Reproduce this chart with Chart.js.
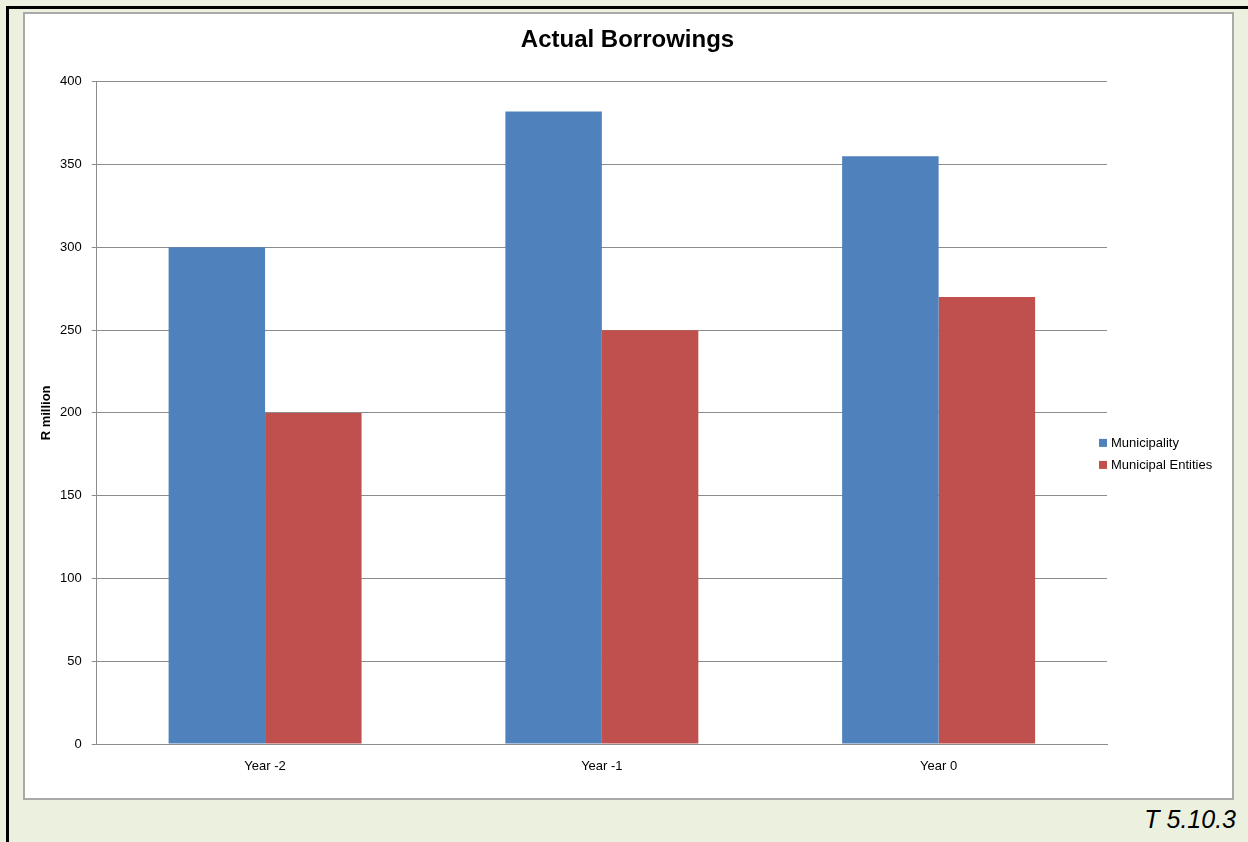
<!DOCTYPE html>
<html>
<head>
<meta charset="utf-8">
<title>Actual Borrowings</title>
<script src="https://cdn.jsdelivr.net/npm/chart.js@4.4.1/dist/chart.umd.min.js"></script>
<style>
  html, body { margin: 0; padding: 0; }
  body {
    width: 1248px; height: 842px; overflow: hidden; position: relative;
    background: #ebf1de; font-family: "Liberation Sans", Arial, sans-serif;
  }
  #frame {
    position: absolute; left: 6px; top: 6px; width: 1300px; height: 900px;
    border-left: 3px solid #000; border-top: 3px solid #000;
  }
  #box {
    position: absolute; left: 23px; top: 12px; width: 1207px; height: 784px;
    background: #fff; border: 2px solid #a9a9a9;
  }
  #myChart { position: absolute; left: 25px; top: 14px; }
  #ref {
    position: absolute; right: 12px; top: 805px;
    font-size: 25px; font-style: italic; color: #000;
  }
</style>
</head>
<body>
<div id="frame"></div>
<div id="box"></div>
<canvas id="myChart" width="1205" height="782" style="width:1205px;height:782px"></canvas>
<div id="ref">T 5.10.3</div>

<script>
const categories = ['Year -2', 'Year -1', 'Year 0'];
const municipality = [300, 382, 355];
const municipalEntities = [200, 250, 270];
const yMin = 0, yMax = 400, yStep = 50;

const FONT = "'Liberation Sans', Arial, sans-serif";
const GRID = '#8c8c8c';
const CHART = document.getElementById('myChart');

// legend drawn beside the plot, a bit below middle like the office chart
const sideLegend = {
    id: 'sideLegend',
    afterDraw(chart) {
        const ctx = chart.ctx;
        const area = chart.chartArea;
        const mid = (area.top + area.bottom) / 2;
        ctx.save();
        ctx.font = '13px ' + FONT;
        ctx.textBaseline = 'middle';
        ctx.textAlign = 'left';
        chart.data.datasets.forEach(function (ds, i) {
            const y = mid + 30 + i * 22;
            ctx.fillStyle = ds.backgroundColor;
            ctx.fillRect(area.right - 8, y - 4, 8, 8);
            ctx.fillStyle = '#000';
            ctx.fillText(ds.label, area.right + 4, y + 1);
        });
        ctx.restore();
    }
};

const myChart = new Chart(CHART, {
    type: 'bar',
    data: {
        labels: categories,
        datasets: [{
            label: 'Municipality',
            data: municipality,
            backgroundColor: '#4f81bd',
            borderWidth: 0
        }, {
            label: 'Municipal Entities',
            data: municipalEntities,
            backgroundColor: '#c0504d',
            borderWidth: 0
        }]
    },
    options: {
        responsive: false,
        animation: false,
        layout: { padding: 0 },
        datasets: {
            bar: { categoryPercentage: 0.573, barPercentage: 1 }
        },
        plugins: {
            legend: { display: false },
            tooltip: { enabled: false },
            title: {
                display: true,
                text: 'Actual Borrowings',
                color: '#000',
                font: { family: FONT, size: 24, weight: 'bold' },
                padding: { top: 12, bottom: 27 }
            }
        },
        scales: {
            x: {
                grid: { display: false },
                border: { display: true, color: GRID, width: 1 },
                ticks: { color: '#000', font: { family: FONT, size: 13 }, padding: 7 },
                afterFit: function (s) { s.height = 52; }
            },
            y: {
                min: yMin,
                max: yMax,
                ticks: {
                    stepSize: yStep,
                    color: '#000',
                    font: { family: FONT, size: 13 },
                    padding: 10
                },
                grid: { color: GRID, lineWidth: 1, tickLength: 5, drawTicks: true },
                border: { display: true, color: GRID, width: 1 },
                title: {
                    display: true,
                    text: 'R million',
                    color: '#000',
                    font: { family: FONT, size: 13, weight: 'bold' },
                    padding: { top: 14, bottom: 0 }
                },
                afterFit: function (s) { s.width = 71.7; }
            },
            // empty right-hand axis that keeps room for the legend
            side: {
                position: 'right',
                grid: { display: false },
                border: { display: false },
                ticks: { display: false },
                afterFit: function (s) { s.width = 123; }
            }
        }
    },
    plugins: [sideLegend]
});
</script>
</body>
</html>
